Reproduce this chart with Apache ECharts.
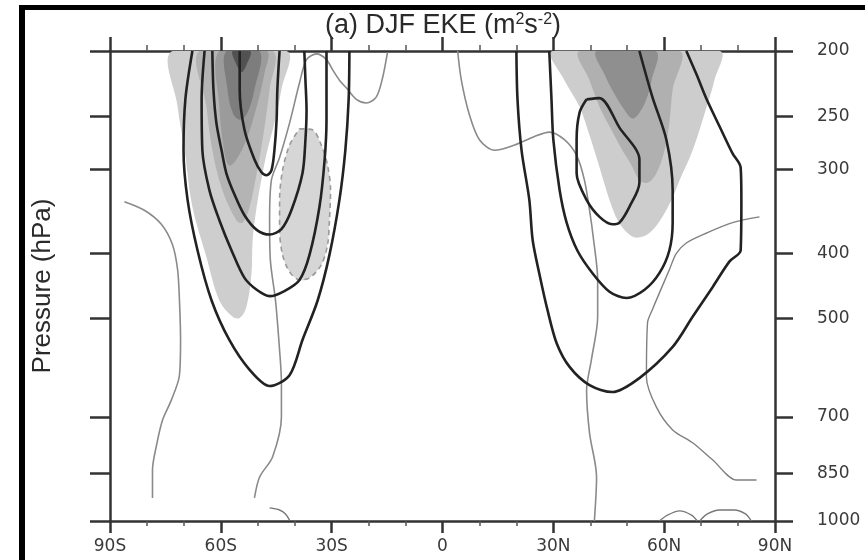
<!DOCTYPE html>
<html><head><meta charset="utf-8">
<script src="https://cdn.jsdelivr.net/npm/echarts@6/dist/echarts.min.js"></script>
<style>html,body{margin:0;padding:0;background:#fff}#c{width:865px;height:560px}</style>
</head><body><div id="c"></div>
<script>
// ---- axis ticks ----
const latTicks = [-90, -60, -30, 0, 30, 60, 90];
const latTickLabels = ['90S', '60S', '30S', '0', '30N', '60N', '90N'];
const pressureTicks = [200, 250, 300, 400, 500, 700, 850, 1000];

// ---- shaded EKE regions [lat, hPa] ----
const shadeS1 = [[-73.1,200],[-71.7,242],[-69.8,281],[-67.7,341],[-63.9,405],[-60.4,470],[-56.8,497],[-54.9,499],[-53.1,481],[-51.7,428],[-51.4,382],[-50.3,341],[-48.7,304],[-47.4,281],[-45.5,256],[-43.6,228],[-42.2,200]];
const shadeS2 = [[-65.8,200],[-63.9,242],[-62.3,281],[-59.6,322],[-55.8,357],[-54.1,360],[-52.2,341],[-50.3,304],[-48.7,271],[-46.8,228],[-46.0,200]];
const shadeS3 = [[-60.4,200],[-60.4,242],[-59.0,284],[-57.7,296],[-55.8,290],[-53.1,271],[-50.3,242],[-48.2,216],[-47.6,200]];
const shadeS4 = [[-58.5,200],[-58.2,228],[-56.8,247],[-54.9,253],[-52.8,247],[-50.9,228],[-49.5,200]];
const shadeS5 = [[-56.8,200],[-56.0,208],[-54.4,215],[-53.1,210],[-52.0,200]];
const shadeDashed = [[-38.7,261],[-35.2,262],[-32.8,276],[-31.1,296],[-30.3,322],[-30.6,357],[-31.1,388],[-32.8,416],[-36.0,435],[-38.7,438],[-41.4,426],[-43.3,402],[-44.1,369],[-44.1,333],[-43.3,301],[-41.4,276],[-38.7,261]];
const shadeN1 = [[29.8,200],[33.0,221],[37.1,242],[39.8,267],[41.7,288],[43.9,316],[45.2,333],[47.4,357],[50.1,373],[52.5,379],[56.0,373],[59.5,353],[62.3,330],[64.2,311],[67.7,281],[71.5,242],[73.6,221],[75.0,200]];
const shadeN2 = [[37.1,200],[39.8,221],[42.5,242],[45.7,262],[48.7,281],[51.2,296],[53.3,311],[55.5,314],[57.9,304],[60.1,281],[61.4,256],[62.3,228],[64.2,200]];
const shadeN3 = [[41.7,200],[43.9,217],[46.6,232],[49.3,245],[51.4,252],[53.3,247],[55.2,236],[56.6,221],[57.7,200]];

// ---- thick black contours ----
const thickS1 = [[-54.9,200],[-54.9,228],[-53.6,262],[-50.9,290],[-49.0,303],[-47.6,306],[-46.3,301],[-45.5,281],[-44.9,253],[-44.7,228],[-44.1,200]];
const thickS2 = [[-62.3,200],[-62.0,228],[-61.2,256],[-59.8,281],[-58.5,304],[-56.3,327],[-53.6,351],[-50.3,369],[-46.8,375],[-43.6,368],[-40.9,345],[-37.9,304],[-37.1,271],[-36.8,245],[-37.1,221],[-37.4,200]];
const thickS3 = [[-64.4,200],[-65.2,236],[-65.0,281],[-63.1,322],[-60.4,357],[-57.1,396],[-53.6,435],[-50.3,453],[-46.8,463],[-42.8,455],[-38.7,438],[-36.0,402],[-33.3,341],[-31.9,290],[-31.4,253],[-31.4,200]];
const thickS4 = [[-67.7,200],[-69.6,236],[-70.1,281],[-69.0,333],[-66.3,396],[-62.5,470],[-57.7,538],[-52.2,596],[-46.8,630],[-41.4,607],[-37.9,538],[-33.8,470],[-30.6,402],[-27.9,333],[-26.3,281],[-25.4,236],[-25.2,200]];
const thickN1 = [[20.0,200],[20.3,236],[21.4,281],[23.5,333],[24.4,382],[26.3,431],[28.4,485],[30.9,544],[34.4,590],[39.8,628],[46.0,643],[53.3,613],[62.3,551],[67.7,497],[73.1,449],[77.7,411],[80.7,396],[80.9,333],[80.7,298],[78.5,284],[75.0,259],[71.5,236],[68.8,217],[66.0,200]];
const thickN2 = [[28.9,200],[29.5,236],[30.0,271],[31.7,322],[33.6,360],[36.5,396],[40.6,428],[45.2,456],[49.8,466],[54.7,453],[58.7,428],[61.4,396],[62.3,360],[62.3,322],[60.6,271],[56.8,234],[53.3,200]];
const thickNLoop = [[39.0,236],[42.5,235],[47.9,260],[53.3,290],[53.3,314],[50.6,341],[47.9,360],[46.0,362],[42.5,353],[39.0,333],[36.3,304],[36.3,271],[37.1,247],[39.0,236]];

// ---- thin grey contours ----
const thinA = [[-86.1,335],[-80.7,345],[-76.1,362],[-73.1,388],[-71.7,423],[-71.2,470],[-70.9,538],[-71.2,607],[-73.4,661],[-75.8,708],[-77.4,771],[-78.5,840],[-78.5,924]];
const thinB = [[-14.9,201],[-16.2,219],[-17.9,234],[-20.6,239],[-23.3,236],[-25.7,228],[-27.9,221],[-29.8,213],[-31.4,206],[-34.1,202],[-36.8,206],[-38.7,223],[-41.4,256],[-44.1,288],[-46.3,311],[-46.8,357],[-46.6,409],[-45.2,470],[-44.1,557],[-43.6,623],[-43.6,700],[-46.0,803],[-49.5,860],[-50.9,924]];
const thinC = [[-46.8,956],[-44.1,963],[-42.5,976],[-41.4,997]];
const thinD = [[4.1,200],[5.1,221],[7.3,249],[10.0,271],[14.1,281],[19.5,276],[24.9,268],[28.9,264],[33.0,271],[36.3,286],[38.4,311],[39.8,345],[40.9,382],[42.0,438],[42.0,497],[40.3,576],[39.0,639],[39.8,740],[41.7,860],[41.1,1000]];
const thinE = [[85.8,353],[78.5,360],[71.5,373],[66.0,386],[63.3,400],[61.4,423],[56.8,485],[55.5,507],[55.2,611],[57.9,677],[62.3,732],[67.7,765],[73.1,811],[79.6,869],[85.0,869]];
const thinArc1 = [[58.7,1000],[60.9,980],[64.2,966],[67.4,980],[69.0,1000]];
const thinArc2 = [[69.6,1000],[71.7,976],[75.0,963],[79.0,963],[82.0,976],[83.6,1000]];

function polySeries(pts, fill) {
  return {
    type: 'custom', coordinateSystem: 'cartesian2d', silent: true, clip: true,
    data: [pts[0]],
    renderItem: function (params, api) {
      return { type: 'polygon', shape: { points: pts.map(function (q) { return api.coord(q); }), smooth: 0.35 },
               style: { fill: fill, stroke: null } };
    }
  };
}
function lineSeries(pts, color, width, dash) {
  return { type: 'line', data: pts, symbol: 'none', showSymbol: false, smooth: 0.3, silent: true, clip: true,
           lineStyle: { color: color, width: width, type: dash ? [5, 4] : 'solid' } };
}

const series = [
  polySeries(shadeS1, '#cecece'), polySeries(shadeS2, '#b4b4b4'), polySeries(shadeS3, '#9b9b9b'),
  polySeries(shadeS4, '#7d7d7d'), polySeries(shadeS5, '#525252'),
  polySeries(shadeDashed, '#d6d6d6'),
  polySeries(shadeN1, '#cdcdcd'), polySeries(shadeN2, '#b0b0b0'), polySeries(shadeN3, '#8f8f8f'),
  lineSeries(shadeDashed, '#9a9a9a', 1.6, true),
  lineSeries(thinA, '#8a8a8a', 1.6), lineSeries(thinB, '#8a8a8a', 1.6), lineSeries(thinC, '#777', 1.4),
  lineSeries(thinD, '#8a8a8a', 1.6), lineSeries(thinE, '#808080', 1.4),
  lineSeries(thinArc1, '#777', 1.3), lineSeries(thinArc2, '#777', 1.3),
  lineSeries(thickS1, '#222', 2.6), lineSeries(thickS2, '#222', 2.6), lineSeries(thickS3, '#222', 2.6), lineSeries(thickS4, '#222', 2.6),
  lineSeries(thickN1, '#222', 2.6), lineSeries(thickN2, '#222', 2.6), lineSeries(thickNLoop, '#222', 2.6)
];

const axisLineStyle = { color: '#333', width: 2.5 };
const labelFont = { color: '#3a3a3a', fontFamily: 'DejaVu Sans', fontSize: 17 };

const chart = echarts.init(document.getElementById('c'), null, { renderer: 'canvas' });
chart.setOption({
  animation: false,
  backgroundColor: '#fff',
  grid: { left: 110, right: 90, top: 51, bottom: 39 },
  xAxis: [
    { type: 'value', position: 'bottom', min: -90, max: 90, interval: 30,
      axisLine: { show: true, onZero: false, lineStyle: axisLineStyle },
      axisTick: { show: true, inside: false, length: 12, lineStyle: { color: '#333', width: 2.5 } },
      minorTick: { show: true, splitNumber: 3, length: 5, lineStyle: { color: '#555', width: 1.5 } },
      splitLine: { show: false },
      axisLabel: Object.assign({ margin: 17, formatter: function (v) { return latTickLabels[latTicks.indexOf(v)]; } }, labelFont) },
    { type: 'value', position: 'top', min: -90, max: 90, interval: 30,
      axisLine: { show: true, onZero: false, lineStyle: axisLineStyle },
      axisTick: { show: true, inside: false, length: 14, lineStyle: { color: '#333', width: 2.5 } },
      minorTick: { show: true, splitNumber: 3, length: 6, lineStyle: { color: '#555', width: 1.5 } },
      splitLine: { show: false }, axisLabel: { show: false } }
  ],
  yAxis: [
    { type: 'log', position: 'left', min: 200, max: 1000, inverse: true,
      axisLine: { show: true, onZero: false, lineStyle: axisLineStyle },
      axisTick: { show: true, inside: false, length: 20, customValues: pressureTicks, lineStyle: { color: '#333', width: 2.5 } },
      minorTick: { show: false }, splitLine: { show: false },
      axisLabel: { show: false, customValues: pressureTicks },
      name: 'Pressure (hPa)', nameLocation: 'middle', nameRotate: 90, nameGap: 54,
      nameTextStyle: { color: '#2a2a2a', fontFamily: 'Liberation Sans', fontSize: 26 } },
    { type: 'log', position: 'right', min: 200, max: 1000, inverse: true,
      axisLine: { show: true, onZero: false, lineStyle: axisLineStyle },
      axisTick: { show: true, inside: false, length: 18, customValues: pressureTicks, lineStyle: { color: '#333', width: 2.5 } },
      minorTick: { show: false }, splitLine: { show: false },
      axisLabel: Object.assign({ show: true, margin: 42, customValues: pressureTicks,
        formatter: function (v) { return String(Math.round(v)); } }, labelFont) }
  ],
  graphic: [
    { type: 'rect', shape: { x: 19, y: 5, width: 6, height: 560 }, style: { fill: '#000' }, silent: true },
    { type: 'rect', shape: { x: 19, y: 5, width: 846, height: 5 }, style: { fill: '#000' }, silent: true },
    { type: 'text', x: 443, y: 26, silent: true,
      style: { text: '(a) DJF EKE (m{sup|2}s{sup|-2})', align: 'center', verticalAlign: 'middle',
               fill: '#2a2a2a', font: '27px "Liberation Sans"',
               rich: { sup: { fontSize: 16, fontFamily: 'Liberation Sans', fill: '#2a2a2a', verticalAlign: 'top', padding: [0, 0, 13, 0] } } } }
  ],
  series: series
});
</script>
</body></html>
